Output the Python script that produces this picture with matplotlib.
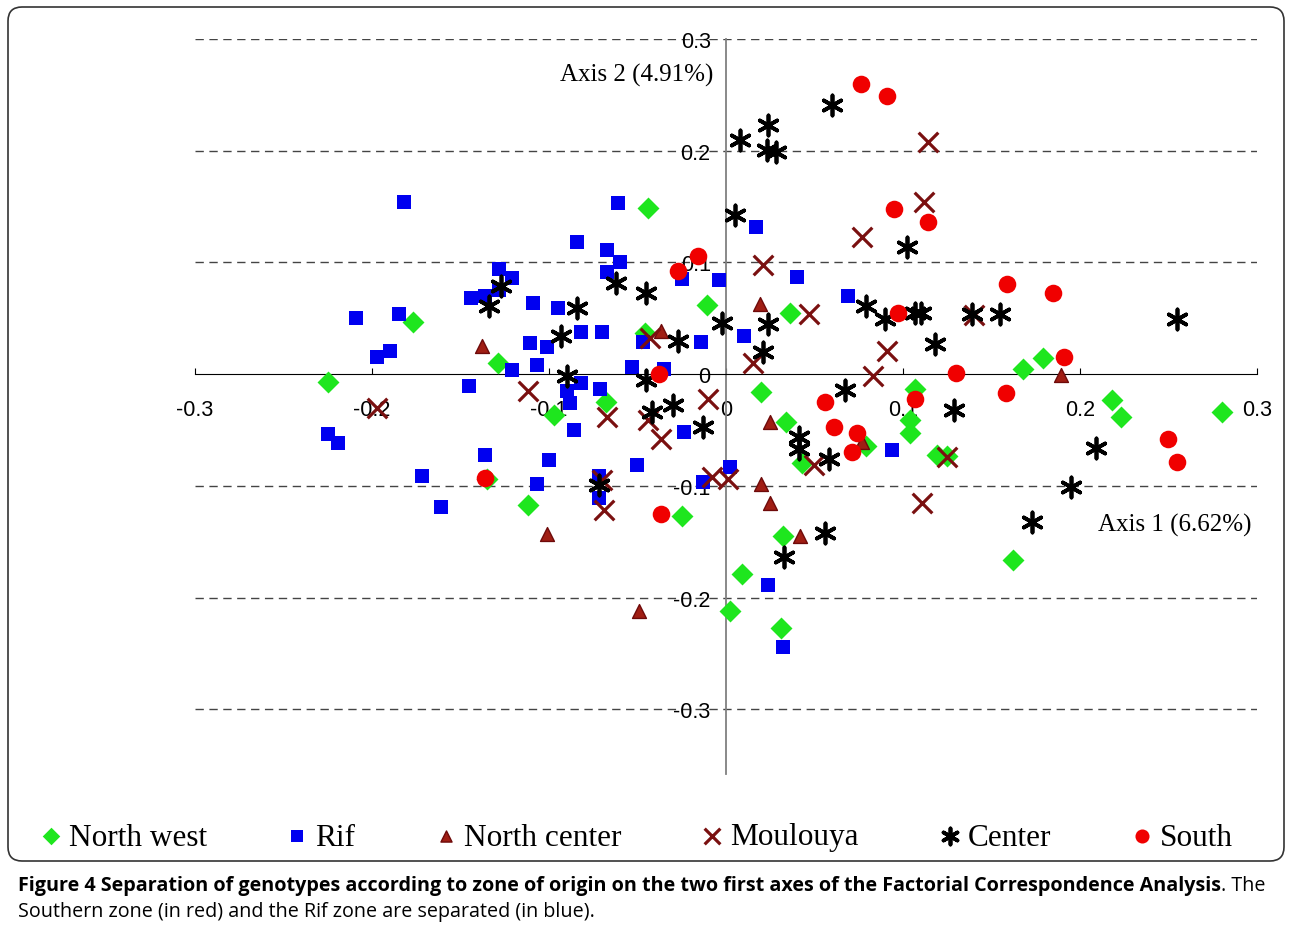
import matplotlib
matplotlib.use("Agg")
import matplotlib.pyplot as plt
import matplotlib.patches as mpatches
from matplotlib.transforms import IdentityTransform

# FCA coordinates (axis 1, axis 2)
nw_x = [-0.225, -0.177, -0.129, -0.044, -0.097, -0.068, -0.046, -0.011, -0.135, -0.112, -0.025,
        0.020, 0.036, 0.034, 0.043, 0.009, 0.002, 0.032, 0.031, 0.079, 0.107, 0.104, 0.104,
        0.119, 0.125, 0.168, 0.179, 0.218, 0.223, 0.280, 0.162]
nw_y = [-0.007, 0.047, 0.010, 0.149, -0.037, -0.025, 0.037, 0.062, -0.094, -0.117, -0.127,
        -0.016, 0.055, -0.043, -0.080, -0.179, -0.212, -0.145, -0.227, -0.064, -0.013, -0.041, -0.053,
        -0.072, -0.073, 0.005, 0.014, -0.023, -0.038, -0.034, -0.166]

rif_x = [-0.182, -0.209, -0.185, -0.197, -0.190, -0.225, -0.219, -0.061, -0.084, -0.067, -0.060,
         -0.067, 0.017, -0.128, -0.121, -0.128, -0.144, -0.136, -0.109, -0.095, -0.111, -0.101,
         -0.082, -0.070, -0.121, -0.107, -0.053, -0.035, -0.025, -0.004, -0.014, -0.047, 0.010,
         0.040, 0.069, -0.145, -0.082, -0.090, -0.088, -0.071, -0.086, -0.136, -0.100, -0.107,
         -0.172, -0.161, -0.072, -0.072, -0.050, -0.024, -0.013, 0.002, 0.094, 0.024, 0.032]
rif_y = [0.154, 0.050, 0.054, 0.015, 0.021, -0.054, -0.062, 0.153, 0.118, 0.111, 0.100,
         0.091, 0.132, 0.094, 0.086, 0.075, 0.068, 0.070, 0.064, 0.059, 0.028, 0.024,
         0.038, 0.038, 0.004, 0.008, 0.006, 0.005, 0.085, 0.084, 0.029, 0.029, 0.034,
         0.087, 0.070, -0.011, -0.008, -0.015, -0.026, -0.013, -0.050, -0.072, -0.077, -0.098,
         -0.091, -0.119, -0.091, -0.111, -0.081, -0.052, -0.097, -0.083, -0.068, -0.189, -0.244]

nc_x = [-0.138, -0.037, 0.019, 0.025, 0.077, 0.020, 0.025, 0.042, -0.101, -0.049, 0.189]
nc_y = [0.025, 0.039, 0.063, -0.043, -0.061, -0.098, -0.115, -0.145, -0.143, -0.212, -0.001]

mou_x = [-0.197, -0.112, -0.067, -0.070, -0.069, -0.044, -0.037, -0.010, -0.008, 0.001, -0.043,
         0.114, 0.112, 0.077, 0.021, 0.047, 0.015, 0.091, 0.083, 0.140, 0.050, 0.125, 0.111]
mou_y = [-0.030, -0.015, -0.038, -0.095, -0.122, -0.041, -0.058, -0.022, -0.092, -0.094, 0.032,
         0.208, 0.154, 0.123, 0.098, 0.054, 0.010, 0.021, -0.002, 0.053, -0.081, -0.074, -0.115]

cen_x = [-0.127, -0.134, -0.084, -0.093, -0.062, -0.045, -0.027, -0.002, 0.005, -0.090, -0.045,
         0.008, 0.024, 0.023, 0.028, 0.060, 0.102, 0.024, 0.021, 0.079, 0.090, 0.107, 0.110,
         0.118, 0.139, 0.155, 0.067, 0.129, 0.041, 0.041, 0.058, -0.042, -0.030, -0.013, -0.072,
         0.056, 0.033, 0.209, 0.195, 0.173, 0.255]
cen_y = [0.079, 0.061, 0.059, 0.034, 0.082, 0.073, 0.030, 0.046, 0.142, -0.002, -0.005,
         0.210, 0.223, 0.201, 0.199, 0.241, 0.114, 0.045, 0.020, 0.061, 0.049, 0.055, 0.055,
         0.027, 0.054, 0.054, -0.014, -0.032, -0.056, -0.067, -0.076, -0.034, -0.028, -0.047, -0.099,
         -0.142, -0.164, -0.066, -0.101, -0.132, 0.049]

sou_x = [0.076, 0.091, 0.095, 0.114, -0.016, -0.027, 0.097, -0.038, 0.159, 0.130, 0.158,
         0.056, 0.107, 0.061, 0.074, 0.071, 0.185, -0.037, 0.191, 0.250, 0.255, -0.136]
sou_y = [0.260, 0.249, 0.148, 0.136, 0.106, 0.092, 0.055, 0.000, 0.081, 0.001, -0.017,
         -0.025, -0.022, -0.047, -0.053, -0.070, 0.073, -0.125, 0.015, -0.058, -0.079, -0.093]

ticks = [-0.3, -0.2, -0.1, 0, 0.1, 0.2, 0.3]
tick_labels = ["-0.3", "-0.2", "-0.1", "0", "0.1", "0.2", "0.3"]
grid_levels = [0.3, 0.2, 0.1, -0.1, -0.2, -0.3]

fig = plt.figure(figsize=(12.9, 9.28), dpi=100)
ax = fig.add_axes([195 / 1290, 153 / 928, 1062 / 1290, 735 / 928])
ax.set_xlim(-0.3, 0.3)
ax.set_ylim(-0.358, 0.3)

ax.hlines(grid_levels, -0.3, 0.3, colors="#444444", linewidth=1.0,
          linestyles=(0, (6, 4)), zorder=1)

for s in ["top", "right"]:
    ax.spines[s].set_visible(False)
ax.spines["bottom"].set_position(("data", 0))
ax.spines["left"].set_position(("data", 0))
ax.spines["bottom"].set_color("black")
ax.spines["left"].set_color("#808080")
ax.spines["left"].set_linewidth(1.3)

ax.set_xticks(ticks)
ax.set_xticklabels(tick_labels)
ax.set_yticks(ticks)
ax.set_yticklabels(tick_labels)
ax.tick_params(axis="x", direction="in", length=4, pad=18, labelsize=15.5)
ax.tick_params(axis="y", length=0, pad=11, labelsize=15.5)
for lab in ax.get_xticklabels() + ax.get_yticklabels():
    lab.set_family("Liberation Sans")

h_nw = ax.scatter(nw_x, nw_y, marker="D", s=125, color="#1EE61E", linewidths=0, zorder=3, label="North west")
h_rif = ax.scatter(rif_x, rif_y, marker="s", s=105, color="#0000F0", linewidths=0, zorder=3, label="Rif")
h_nc = ax.scatter(nc_x, nc_y, marker="^", s=100, color="#A01E14", edgecolors="#6E0A0A",
                  linewidths=1, zorder=3, label="North center")
h_mou = ax.scatter(mou_x, mou_y, marker="x", s=200, color="#7A1010", linewidths=2.3, zorder=3, label="Moulouya")
h_cen = ax.scatter(cen_x, cen_y, marker=(6, 2, 0), s=210, color="black", linewidths=2.7, zorder=3, label="Center")
h_sou = ax.scatter(sou_x, sou_y, marker="o", s=160, color="#F00000", linewidths=0, zorder=3, label="South")

ax.text(-0.007, 0.2686, "Axis 2 (4.91%)", ha="right", va="center", fontsize=18, family="Liberation Serif")
ax.text(0.297, -0.1343, "Axis 1 (6.62%)", ha="right", va="center", fontsize=18, family="Liberation Serif")

fig.legend(handles=[h_nw, h_rif, h_nc, h_mou, h_cen, h_sou], loc="center left",
           bbox_to_anchor=(38 / 1290, 1 - 838 / 928), ncol=6, frameon=False,
           prop={"family": "Liberation Serif", "size": 22.5}, markerscale=0.8,
           handlelength=0.8, handletextpad=0.18, columnspacing=2.5, borderpad=0,
           borderaxespad=0)

frame = mpatches.FancyBboxPatch((8, 928 - 862), 1276, 854, boxstyle="round,pad=0,rounding_size=14",
                                transform=IdentityTransform(), fill=False, edgecolor="#333333", linewidth=1.2)
fig.add_artist(frame)

bold_part = ("Figure 4 Separation of genotypes according to zone of origin on the two first axes "
             "of the Factorial Correspondence Analysis")
t1 = fig.text(18 / 1290, 1 - 886 / 928, bold_part, fontsize=14.2, weight="bold",
              family="Open Sans", va="center")
fig.canvas.draw()
bb = t1.get_window_extent()
fig.text(bb.x1 / 1290, 1 - 886 / 928, ". The", fontsize=14.2, family="Open Sans", va="center")
fig.text(18 / 1290, 1 - 912 / 928, "Southern zone (in red) and the Rif zone are separated (in blue).",
         fontsize=14.2, family="Open Sans", va="center")

fig.savefig("out.png", dpi=100)
